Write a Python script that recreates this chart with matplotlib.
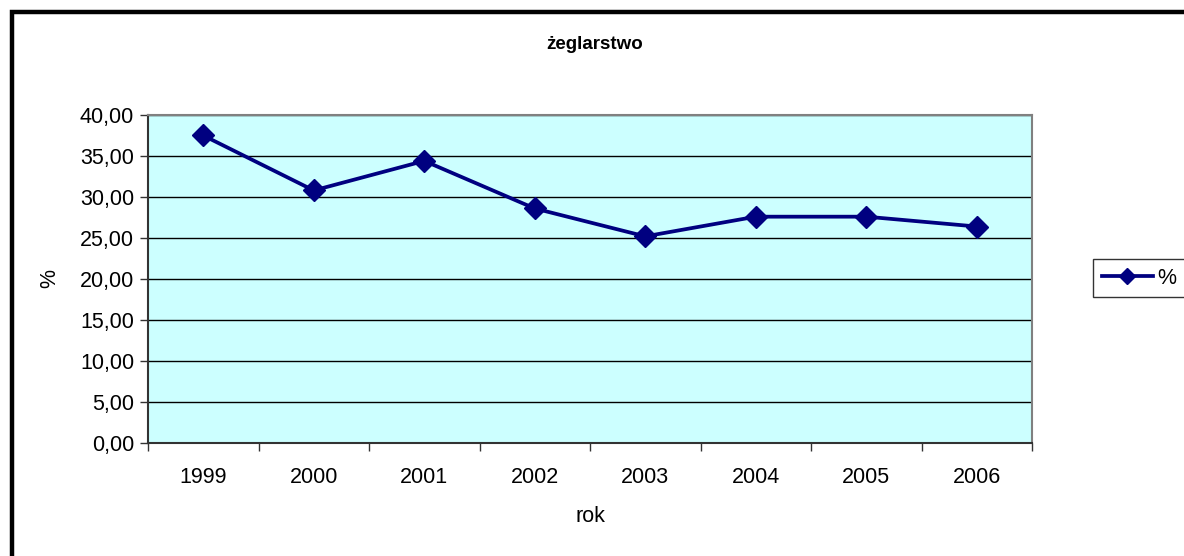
import matplotlib
matplotlib.use("Agg")
import matplotlib.pyplot as plt
from matplotlib.patches import Rectangle
from matplotlib.ticker import FixedLocator, FuncFormatter

years = ["1999", "2000", "2001", "2002", "2003", "2004", "2005", "2006"]
values = [37.5, 30.8, 34.4, 28.6, 25.2, 27.6, 27.6, 26.4]
series_name = "%"
title = "żeglarstwo"
xlabel = "rok"
ylabel = "%"
yticks = [0, 5, 10, 15, 20, 25, 30, 35, 40]

plt.rcParams['font.family'] = ['Liberation Sans', 'DejaVu Sans']

W, H = 1184, 556
fig = plt.figure(figsize=(W / 100, H / 100), dpi=100)
fig.patch.set_facecolor("white")

# outer chart border (extends beyond right/bottom edges)
fig.patches.append(Rectangle((11.5 / W, -0.1), 1.2, 1 - 11.5 / H + 0.1,
                             transform=fig.transFigure, fill=False,
                             edgecolor="black", linewidth=3.2))

ax = fig.add_axes([148 / W, 1 - 443 / H, (1032 - 148) / W, (443 - 115) / H])
ax.set_facecolor("#CCFFFF")

x = list(range(len(years)))
ax.plot(x, values, color="#000080", linewidth=2.7, marker="D",
        markersize=11, markerfacecolor="#000080", markeredgecolor="#000080",
        label=series_name, zorder=3)

ax.set_xlim(-0.5, len(years) - 0.5)
ax.set_ylim(0, 40)
ax.set_yticks(yticks)
ax.yaxis.set_major_formatter(FuncFormatter(lambda v, p: f"{v:.2f}".replace(".", ",")))
ax.grid(axis="y", color="black", linewidth=1)
ax.set_axisbelow(True)

ax.xaxis.set_major_locator(FixedLocator([i - 0.5 for i in range(len(years) + 1)]))
ax.xaxis.set_minor_locator(FixedLocator(x))
ax.set_xticklabels([""] * (len(years) + 1))
ax.set_xticklabels(years, minor=True)
ax.tick_params(axis="x", which="major", length=6, width=1, color="#333333", direction="out")
ax.tick_params(axis="x", which="minor", length=0, labelsize=15.5, pad=17)
ax.tick_params(axis="y", length=6, width=1, color="#333333", labelsize=15.5, pad=4)

for side in ["top", "right"]:
    ax.spines[side].set_color("#808080")
    ax.spines[side].set_linewidth(1.5)
for side in ["left", "bottom"]:
    ax.spines[side].set_color("#333333")
    ax.spines[side].set_linewidth(1.5)

fig.text(595 / W, 1 - 45 / H, title, ha="center", va="center",
         fontsize=13.5, fontweight="bold")
fig.text(590 / W, 1 - 517 / H, xlabel, ha="center", va="center", fontsize=15.5)
fig.text(50 / W, 1 - 278 / H, ylabel, ha="center", va="center", fontsize=15.5, rotation=90)

leg = fig.legend(loc="center left", bbox_to_anchor=(1093 / W, 1 - 278 / H),
                 fancybox=False, edgecolor="black", fontsize=15.5,
                 handlelength=2.4, handletextpad=0.2, borderpad=0.4,
                 borderaxespad=0, markerscale=0.75)
leg.get_frame().set_linewidth(1.0)

fig.savefig("out.png", dpi=100)
